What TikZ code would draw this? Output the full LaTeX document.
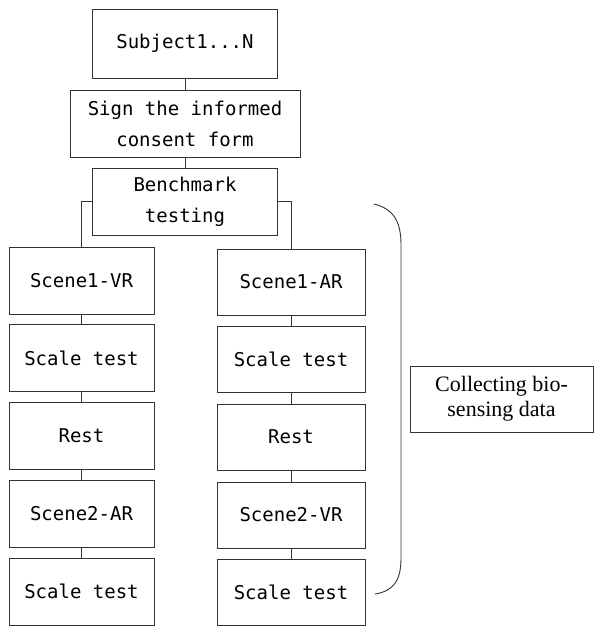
\documentclass[tikz,border=0pt]{standalone}
\usepackage{fontspec}
\setmonofont{DejaVu Sans Mono}
\newfontfamily\timesfont{Liberation Serif}
\usepackage{tikz}

\begin{document}
\begin{tikzpicture}[x=1pt,y=-1pt,
            box/.style={draw=black!80, line width=0.9pt, rectangle, align=center,
                inner sep=0pt, font=\ttfamily\fontsize{19}{31}\selectfont},
            leftbox/.style={box, minimum width=145pt, minimum height=67pt},
            rightbox/.style={box, minimum width=148pt, minimum height=66pt},
            link/.style={draw=black!80, line width=0.9pt}]
            \useasboundingbox (0,0) rectangle (594,626);

            % top of the flow
            \node[box, minimum width=185pt, minimum height=69pt] (subj) at (185,43.5) {Subject1...N};
            \node[box, minimum width=230pt, minimum height=67pt] (sign) at (185,123.5) {Sign the informed\\consent form};
            \node[box, minimum width=185pt, minimum height=67pt] (bench) at (185,201.5) {Benchmark\\testing};

            % left branch
            \node[leftbox] (l1) at (81.5,280.5) {Scene1-VR};
            \node[leftbox] (l2) at (81.5,358) {Scale test};
            \node[leftbox] (l3) at (81.5,436) {Rest};
            \node[leftbox] (l4) at (81.5,514) {Scene2-AR};
            \node[leftbox] (l5) at (81.5,591.5) {Scale test};

            % right branch
            \node[rightbox] (r1) at (291,282) {Scene1-AR};
            \node[rightbox] (r2) at (291,359) {Scale test};
            \node[rightbox] (r3) at (291,437) {Rest};
            \node[rightbox] (r4) at (291,515) {Scene2-VR};
            \node[rightbox] (r5) at (291,592.5) {Scale test};

            \node[draw=black!80, line width=0.9pt, minimum width=183pt, minimum height=66pt,
                inner sep=0pt, align=center, font=\timesfont\fontsize{22}{25}\selectfont]
                (bio) at (501.5,399) {Collecting bio-\\sensing data};

            \draw[link] (subj.south) -- (sign.north);
            \draw[link] (sign.south) -- (bench.north);
            \draw[link] (bench.west) -| (l1.north);
            \draw[link] (bench.east) -| (r1.north);
            \foreach \a/\b in {1/2,2/3,3/4,4/5} {
                \draw[link] (l\a.south) -- (l\b.north);
                \draw[link] (r\a.south) -- (r\b.north);
            }

            % bracket round the two branches
            \draw[black!80, line width=0.9pt] (374,204) .. controls (394,209) and (401,222) .. (401,245)
                -- (401,558) .. controls (401,580) and (394,591) .. (375,594);
        \end{tikzpicture}
\end{document}
